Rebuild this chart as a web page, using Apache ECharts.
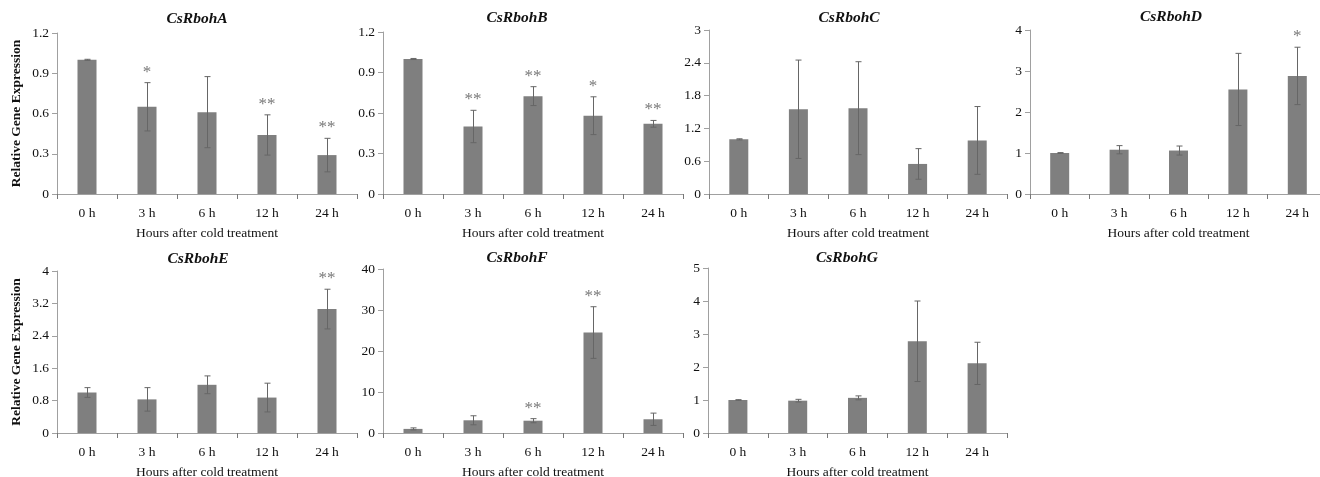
<!DOCTYPE html>
<html>
<head>
<meta charset="utf-8">
<script src="https://cdn.jsdelivr.net/npm/echarts@6/dist/echarts.min.js"></script>
<style>
html,body{margin:0;padding:0;background:#fff;}
#chart{width:1320px;height:477px;}
</style>
</head>
<body>
<div id="chart"></div>
<script>
// ---- data ----
const categories = ['0 h', '3 h', '6 h', '12 h', '24 h'];
const genes = ['CsRbohA', 'CsRbohB', 'CsRbohC', 'CsRbohD', 'CsRbohE', 'CsRbohF', 'CsRbohG'];

const meanA = [1.00, 0.65, 0.61, 0.44, 0.29];
const errA  = [0.004, 0.18, 0.265, 0.15, 0.125];
const starsA = ['', '*', '', '**', '**'];

const meanB = [1.00, 0.50, 0.725, 0.58, 0.52];
const errB  = [0.004, 0.12, 0.07, 0.14, 0.025];
const starsB = ['', '**', '**', '*', '**'];

const meanC = [1.00, 1.55, 1.57, 0.55, 0.98];
const errC  = [0.01, 0.90, 0.85, 0.28, 0.62];
const starsC = ['', '', '', '', ''];

const meanD = [1.00, 1.08, 1.06, 2.55, 2.88];
const errD  = [0.01, 0.10, 0.11, 0.88, 0.70];
const starsD = ['', '', '', '', '*'];

const meanE = [1.00, 0.83, 1.19, 0.875, 3.06];
const errE  = [0.12, 0.29, 0.22, 0.355, 0.49];
const starsE = ['', '', '', '', '**'];

const meanF = [1.0, 3.1, 3.0, 24.5, 3.35];
const errF  = [0.25, 1.1, 0.5, 6.3, 1.5];
const starsF = ['', '', '**', '**', ''];

const meanG = [1.00, 0.98, 1.065, 2.78, 2.11];
const errG  = [0.01, 0.04, 0.06, 1.22, 0.64];
const starsG = ['', '', '', '', ''];

// y-axis ranges (max, tick step)
const yMax  = [1.2, 1.2, 3, 4, 4, 40, 5];
const yStep = [0.3, 0.3, 0.6, 1, 0.8, 10, 1];

const xAxisName = 'Hours after cold treatment';
const yAxisName = 'Relative Gene Expression';

// ---- layout ----
const W = 1320, H = 477;
const panels = [
  {mean: meanA, err: errA, stars: starsA, x0: 57,   x1: 357,  top: 33,  zero: 194, tx: 197,  ty: 19,  yname: true},
  {mean: meanB, err: errB, stars: starsB, x0: 383,  x1: 683,  top: 32,  zero: 194, tx: 517,  ty: 18,  yname: false},
  {mean: meanC, err: errC, stars: starsC, x0: 709,  x1: 1007, top: 30,  zero: 194, tx: 849,  ty: 18,  yname: false},
  {mean: meanD, err: errD, stars: starsD, x0: 1030, x1: 1327, top: 30,  zero: 194, tx: 1171, ty: 17,  yname: false},
  {mean: meanE, err: errE, stars: starsE, x0: 57,   x1: 357,  top: 271, zero: 433, tx: 198,  ty: 259, yname: true},
  {mean: meanF, err: errF, stars: starsF, x0: 383,  x1: 683,  top: 269, zero: 433, tx: 517,  ty: 258, yname: false},
  {mean: meanG, err: errG, stars: starsG, x0: 708,  x1: 1007, top: 268, zero: 433, tx: 847,  ty: 258, yname: false}
];

const FONT = "'Liberation Serif', 'Times New Roman', serif";
const AXIS_COLOR = '#a0a0a0';
const BAR_COLOR = '#7f7f7f';
const ERR_COLOR = '#666666';

const option = {
  animation: false,
  backgroundColor: '#ffffff',
  title: [],
  grid: [],
  xAxis: [],
  yAxis: [],
  series: []
};

panels.forEach((p, i) => {
  option.title.push({
    text: genes[i],
    left: p.tx, top: p.ty,
    textAlign: 'center', textVerticalAlign: 'middle',
    padding: 0,
    textStyle: {fontFamily: FONT, fontSize: 15.5, fontWeight: 'bold', fontStyle: 'italic', color: '#111'}
  });
  option.grid.push({
    left: p.x0, width: p.x1 - p.x0, top: p.top, height: p.zero - p.top,
    containLabel: false,
    outerBoundsMode: 'none'
  });
  option.xAxis.push({
    type: 'category', gridIndex: i, data: categories,
    name: xAxisName, nameLocation: 'middle', nameGap: 32,
    nameTextStyle: {fontFamily: FONT, fontSize: 13.5, color: '#111'},
    axisLine: {lineStyle: {color: AXIS_COLOR, width: 1}},
    axisTick: {show: true, alignWithLabel: false, length: 5, lineStyle: {color: '#777'}},
    axisLabel: {fontFamily: FONT, fontSize: 13.5, color: '#111', margin: 12, interval: 0},
    splitLine: {show: false}
  });
  option.yAxis.push({
    type: 'value', gridIndex: i, min: 0, max: yMax[i], interval: yStep[i],
    name: p.yname ? yAxisName : '', nameLocation: 'middle', nameGap: 33,
    nameTextStyle: {fontFamily: FONT, fontSize: 13.5, fontWeight: 'bold', color: '#111'},
    axisLine: {show: true, lineStyle: {color: AXIS_COLOR, width: 1}},
    axisTick: {show: true, length: 5, lineStyle: {color: AXIS_COLOR}},
    axisLabel: {fontFamily: FONT, fontSize: 13.5, color: '#111', margin: 8},
    splitLine: {show: false}
  });
  option.series.push({
    type: 'bar', xAxisIndex: i, yAxisIndex: i,
    data: p.mean, barWidth: 19,
    itemStyle: {color: BAR_COLOR},
    silent: true
  });
  option.series.push({
    type: 'custom', xAxisIndex: i, yAxisIndex: i,
    data: p.mean.map((m, k) => [k, m - p.err[k], m + p.err[k]]),
    renderItem: function (params, api) {
      const x = api.value(0);
      const lo = api.coord([x, api.value(1)]);
      const hi = api.coord([x, api.value(2)]);
      const cx = Math.round(lo[0]) + 0.5;
      const hw = 3;
      const style = {stroke: ERR_COLOR, lineWidth: 1};
      return {
        type: 'group',
        children: [
          {type: 'line', shape: {x1: cx, y1: hi[1], x2: cx, y2: lo[1]}, style: style},
          {type: 'line', shape: {x1: cx - hw, y1: hi[1], x2: cx + hw, y2: hi[1]}, style: style},
          {type: 'line', shape: {x1: cx - hw, y1: lo[1], x2: cx + hw, y2: lo[1]}, style: style}
        ]
      };
    },
    clip: false,
    silent: true,
    z: 3
  });
  option.series.push({
    type: 'scatter', xAxisIndex: i, yAxisIndex: i,
    data: p.mean.map((m, k) => [k, m + p.err[k]]),
    symbolSize: 0,
    label: {
      show: true, position: 'top', distance: 2,
      formatter: function (d) { return p.stars[d.dataIndex]; },
      fontFamily: FONT, fontSize: 17, color: '#555'
    },
    silent: true,
    z: 4
  });
});

const chart = echarts.init(document.getElementById('chart'), null, {renderer: 'canvas'});
chart.setOption(option);
</script>
</body>
</html>
